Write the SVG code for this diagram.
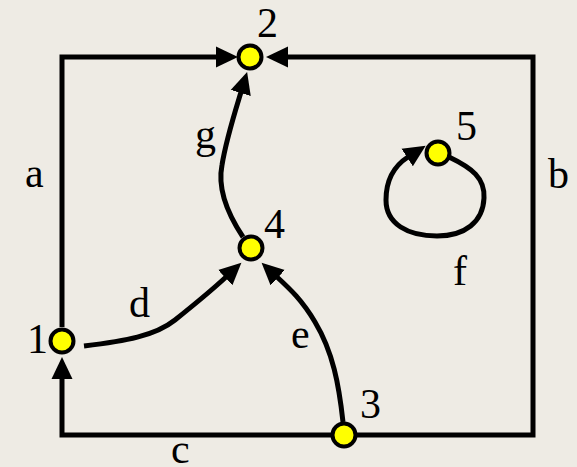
<svg xmlns="http://www.w3.org/2000/svg" width="577" height="467" viewBox="0 0 577 467">
<style>
.edge{fill:none;stroke:#000;stroke-width:5;stroke-linejoin:miter}
.node{fill:#FFFF00;stroke:#000;stroke-width:4}
.lbl{font-family:"Liberation Serif","Times New Roman",serif;font-size:42px;fill:#000}
</style>
<defs>
<marker id="arr" markerUnits="userSpaceOnUse" markerWidth="24" markerHeight="24" viewBox="0 -12 24 24" refX="1" refY="0" orient="auto">
<path d="M0,-10.5 L22,0 L0,10.5 Z" fill="#000"/>
</marker>
</defs>
<rect width="577" height="467" fill="#EEEBE4"/>
<g id="connectors">
<path id="a" class="edge" d="M62,327 L62,57 L217,57" marker-end="url(#arr)"/>
<path id="b" class="edge" d="M357,435 L533,435 L533,57 L287,57" marker-end="url(#arr)"/>
<path id="c" class="edge" d="M331,435 L62,435 L62,378" marker-end="url(#arr)"/>
<path id="d" class="edge" d="M84,346 C125,341 155,336 175,320 C195,304 212,290 226,277" marker-end="url(#arr)"/>
<path id="e" class="edge" d="M343,422 C339,385 333,352 315,322 C302,300 290,289 277,277" marker-end="url(#arr)"/>
<path id="f" class="edge" d="M449,157 C472,168 485,178 484,198 C483,222 465,236 437,236 C408,236 386,224 386,200 C386,180 394,166 408,157" marker-end="url(#arr)"/>
<path id="g" class="edge" d="M243,237 C225,210 218,185 222,165 C226,140 234,115 241,92" marker-end="url(#arr)"/>
</g>
<g id="n1"><circle class="node" cx="62" cy="341" r="11.5"/><text class="lbl" x="27" y="353">1</text></g>
<g id="n2"><circle class="node" cx="250" cy="57" r="11.5"/><text class="lbl" x="257" y="37">2</text></g>
<g id="n3"><circle class="node" cx="344" cy="435" r="11.5"/><text class="lbl" x="360" y="418">3</text></g>
<g id="n4"><circle class="node" cx="251" cy="248" r="11.5"/><text class="lbl" x="264" y="238">4</text></g>
<g id="n5"><circle class="node" cx="438" cy="153" r="11.5"/><text class="lbl" x="456" y="140">5</text></g>
<g id="labels">
<text class="lbl" x="25" y="187">a</text>
<text class="lbl" x="548" y="188">b</text>
<text class="lbl" x="171" y="463">c</text>
<text class="lbl" x="129" y="317">d</text>
<text class="lbl" x="291" y="348">e</text>
<text class="lbl" x="453" y="285">f</text>
<text class="lbl" x="195" y="148">g</text>
</g>
</svg>
